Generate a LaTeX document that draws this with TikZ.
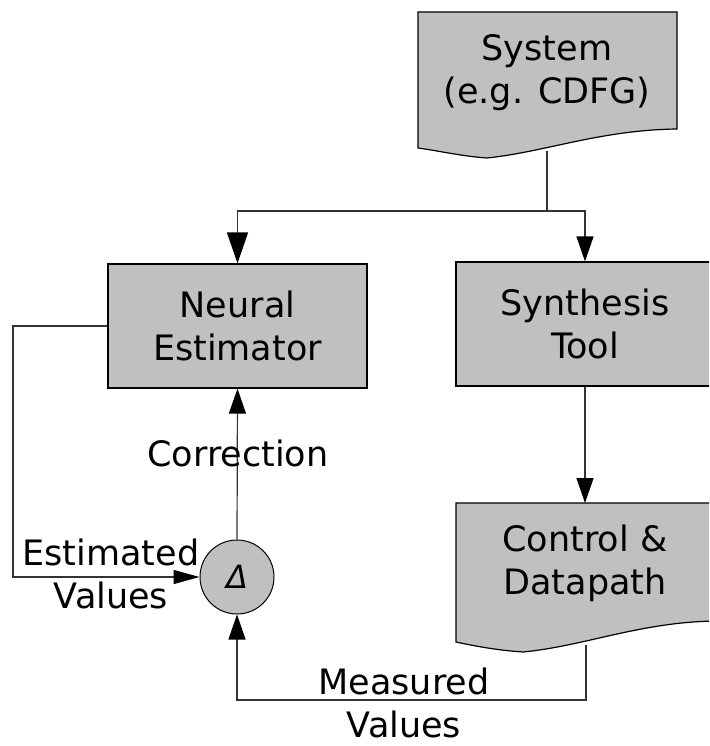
\documentclass[tikz,border=0pt]{standalone}
\usepackage{fontspec}
\setmainfont{DejaVu Sans}
\usetikzlibrary{arrows.meta, positioning, calc}
\definecolor{boxGray}{RGB}{192,192,192}

\begin{document}
\begin{tikzpicture}[x=1pt, y=-1pt,
    blk/.style={draw=black, fill=boxGray, line width=1.2pt},
    lbl/.style={align=center, inner sep=0pt, font=\fontsize{35}{43}\selectfont},
    wire/.style={draw=black!80, line width=1.2pt},
    tip/.style={-{Triangle[length=25pt,width=17pt,color=black]}},
    tipBig/.style={-{Triangle[length=31pt,width=21pt,color=black]}},
    tipFlat/.style={-{Triangle[length=26pt,width=14pt,color=black]}}]
        \useasboundingbox (0,0) rectangle (709,746);
        \clip (0,0) rectangle (709,746);

        % documents with a wavy bottom
        \draw[blk] (418,12) -- (677,12) -- (677,129)
            .. controls (600,130) and (545,152) .. (487,158)
            .. controls (460,156) and (440,151) .. (418,148) -- cycle;
        \draw[blk] (456,503) -- (716,503) -- (716,621)
            .. controls (640,622) and (585,646) .. (523,652)
            .. controls (495,650) and (475,646) .. (456,642) -- cycle;

        \node[lbl] (nSystem) at (547,73) {System\\(e.g. CDFG)};
        \node[lbl] (nControl) at (585,563) {Control \&\\Datapath};
        \coordinate (cSysOut) at (547,151);
        \coordinate (cCtrlIn) at (585,503);
        \coordinate (cCtrlOut) at (586,645);

        % boxes
        \node[blk, lbl, minimum width=259pt, minimum height=124pt] (nNeural) at (237.5,326) {Neural\\Estimator};
        \node[blk, lbl, minimum width=258pt, minimum height=124pt] (nSynth) at (585,324) {Synthesis\\Tool};
        \node[circle, draw=black, fill=boxGray, line width=1pt, minimum size=74pt, inner sep=0pt,
              font=\fontsize{32}{36}\selectfont\itshape] (nDelta) at (237,577) {Δ};

        % connectors
        \draw[wire] (cSysOut) -- (547,211) coordinate (cSplit);
        \draw[wire, tipBig] (cSplit) -| (nNeural.north);
        \draw[wire, tip] (cSplit) -| (nSynth.north);
        \draw[wire, tip] (nSynth.south) -- (cCtrlIn);
        \draw[wire, tip] (nDelta.north) -- (nNeural.south);
        \draw[wire, tipFlat] (nNeural.west) -- (13,326) coordinate (cLoop) |- (nDelta.west);
        \draw[wire, tip] (cCtrlOut) -- (586,700) coordinate (cMeas) -| (nDelta.south);

        \node[lbl] (nCorr) at (238,453) {Correction};
        \node[lbl] (nEst) at (111,574) {Estimated\\Values};
        \node[lbl] (nMeas) at (404,703) {Measured\\Values};
\end{tikzpicture}
\end{document}
